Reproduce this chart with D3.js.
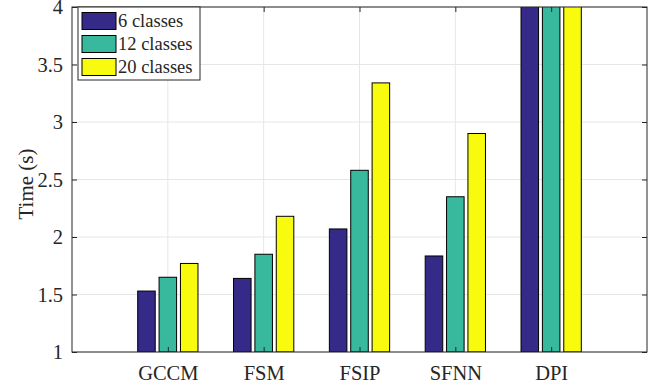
<!DOCTYPE html>
<html>
<head>
<meta charset="utf-8">
<script src="https://cdn.jsdelivr.net/npm/d3@7"></script>
<style>
  body { margin: 0; background: #fff; }
  text { font-family: "Times New Roman", serif; fill: #262626; }
</style>
</head>
<body>
<div id="chart"></div>
<script>
const categories = ["GCCM", "FSM", "FSIP", "SFNN", "DPI"];
const seriesNames = ["6 classes", "12 classes", "20 classes"];
const classes6 = [1.53, 1.64, 2.07, 1.835, 4.6];
const classes12 = [1.65, 1.85, 2.58, 2.35, 4.9];
const classes20 = [1.77, 2.18, 3.34, 2.90, 5.3];
const yTicks = [1, 1.5, 2, 2.5, 3, 3.5, 4];
const colors = ["#352a87", "#38b99e", "#f9fb0e"];
const fontFamily = "'Times New Roman', serif";

const width = 657, height = 386;
const margin = { top: 7, right: 10, bottom: 34, left: 72 };
const w = width - margin.left - margin.right;
const h = height - margin.top - margin.bottom;

const svg = d3.select("#chart").append("svg")
  .attr("width", width).attr("height", height);

const g = svg.append("g").attr("transform", `translate(${margin.left},${margin.top})`);

// x: categories sit at 1..5 on a 0..6 axis (MATLAB style)
const x = d3.scaleLinear().domain([0, categories.length + 1]).range([0, w]);
const y = d3.scaleLinear().domain([1, 4]).range([h, 0]);
const unit = x(1) - x(0);
const offset = d3.scaleLinear().domain([0, 2]).range([-0.223 * unit, 0.223 * unit]);
const barW = 0.183 * unit;

g.append("defs").append("clipPath").attr("id", "plot")
  .append("rect").attr("width", w).attr("height", h);

// grid
g.append("g").selectAll("line.gy").data(yTicks).enter().append("line")
  .attr("x1", 0).attr("x2", w)
  .attr("y1", d => y(d)).attr("y2", d => y(d))
  .attr("stroke", "#e6e6e6").attr("stroke-width", 1);
g.append("g").selectAll("line.gx").data(categories).enter().append("line")
  .attr("x1", (d, i) => x(i + 1)).attr("x2", (d, i) => x(i + 1))
  .attr("y1", 0).attr("y2", h)
  .attr("stroke", "#e6e6e6").attr("stroke-width", 1);

// bars
const series = [classes6, classes12, classes20];
const bars = g.append("g").attr("clip-path", "url(#plot)");
series.forEach((vals, s) => {
  bars.selectAll(null).data(vals).enter().append("rect")
    .attr("x", (d, i) => x(i + 1) + offset(s) - barW / 2)
    .attr("width", barW)
    .attr("y", d => y(d))
    .attr("height", d => h - y(d))
    .attr("fill", colors[s])
    .attr("stroke", "#000").attr("stroke-width", 1);
});

// axes box
const yAxis = d3.axisLeft(y).tickValues(yTicks).tickSize(-5).tickPadding(9).tickFormat(d3.format("~g"));
const yAxisR = d3.axisRight(y).tickValues(yTicks).tickSize(-5).tickFormat("");
const xAxis = d3.axisBottom(x).tickValues(d3.range(1, categories.length + 1)).tickSize(-5).tickPadding(13)
  .tickFormat(d => categories[d - 1]);
const xAxisT = d3.axisTop(x).tickValues(d3.range(1, categories.length + 1)).tickSize(-5).tickFormat("");

const styleAxis = sel => {
  sel.selectAll(".tick line").attr("stroke", "#262626");
  sel.selectAll("text").style("font-size", "20.5px").attr("fill", "#262626")
    .style("font-family", fontFamily);
};
g.append("g").call(yAxis).call(styleAxis);
g.append("g").attr("transform", `translate(${w},0)`).call(yAxisR).call(styleAxis);
g.append("g").attr("transform", `translate(0,${h})`).call(xAxis).call(styleAxis);
g.append("g").call(xAxisT).call(styleAxis);
g.selectAll(".domain").remove();
g.append("rect").attr("width", w).attr("height", h)
  .attr("fill", "none").attr("stroke", "#262626").attr("stroke-width", 1);

// y label
svg.append("text")
  .attr("transform", `translate(33,184) rotate(-90)`)
  .attr("text-anchor", "middle")
  .style("font-size", "21px")
  .text("Time (s)");

// legend
const lg = g.append("g").attr("transform", "translate(6,0)");
lg.append("rect").attr("width", 122).attr("height", 73)
  .attr("fill", "#fff").attr("stroke", "#262626").attr("stroke-width", 1);
seriesNames.forEach((name, i) => {
  lg.append("rect").attr("x", 4).attr("y", 5.5 + i * 23).attr("width", 34).attr("height", 17)
    .attr("fill", colors[i]).attr("stroke", "#000").attr("stroke-width", 1);
  lg.append("text").attr("x", 40).attr("y", 20 + i * 23)
    .style("font-size", "18.5px").text(name);
});
</script>
</body>
</html>
